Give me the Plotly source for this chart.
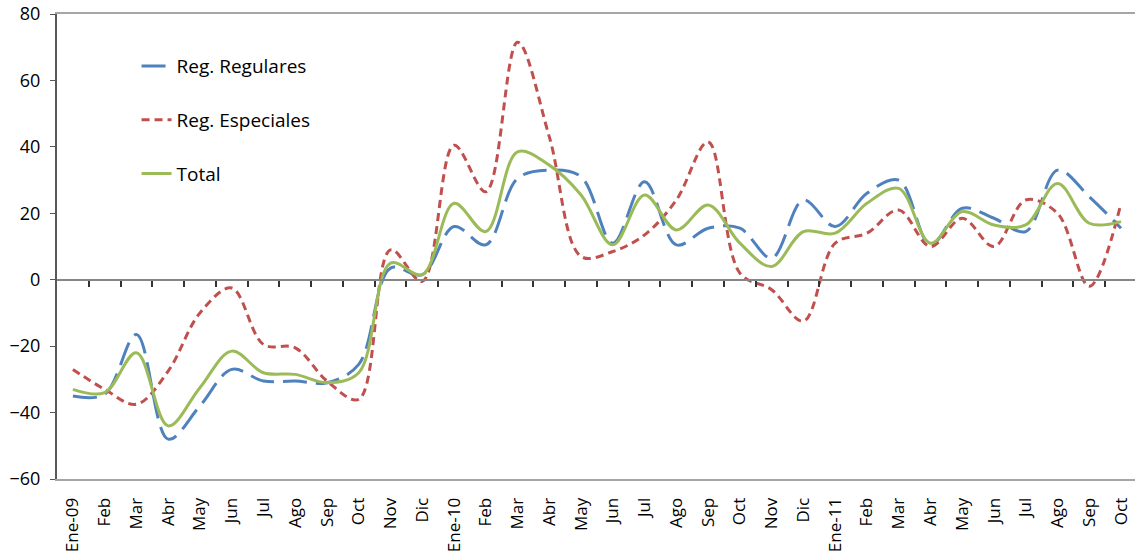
import plotly.graph_objects as go

months = ["Ene-09", "Feb", "Mar", "Abr", "May", "Jun", "Jul", "Ago", "Sep", "Oct", "Nov", "Dic",
          "Ene-10", "Feb", "Mar", "Abr", "May", "Jun", "Jul", "Ago", "Sep", "Oct", "Nov", "Dic",
          "Ene-11", "Feb", "Mar", "Abr", "May", "Jun", "Jul", "Ago", "Sep", "Oct"]

reg_regulares = [-35, -34.5, -16.5, -48, -38, -27, -30.5, -30.5, -31, -25.5, 3.5, 1.5,
                 16, 10.5, 30.5, 33, 31, 11, 29.5, 10.5, 15.5, 15.5, 6.5, 24,
                 16, 26, 30, 10.5, 21.5, 18.5, 14.5, 33, 25, 15.5]

reg_especiales = [-27, -33, -37.5, -27.5, -10, -2.5, -19.5, -20.5, -30.5, -36, 9, -0.5,
                  40.5, 26.5, 71.5, 43, 7, 8.5, 13.5, 24, 41.5, 2, -3, -12.5,
                  11, 14, 21, 10, 18.5, 10, 24, 20, -2, 23]

total = [-33, -34, -22, -44, -32.5, -21.5, -28, -28.5, -31, -28, 5, 1.5,
         23, 14.5, 38.5, 34.5, 25.5, 10.5, 25.5, 15, 22.5, 11, 4, 14.5,
         14, 23, 27.5, 11, 20.5, 16.5, 16.5, 29, 17, 17.5]

y_ticks = [-60, -40, -20, 0, 20, 40, 60, 80]

xs = list(range(len(months)))
FONT = "Open Sans"

fig = go.Figure()
fig.add_trace(go.Scatter(x=xs, y=reg_regulares, name="Reg. Regulares", mode="lines",
                         line=dict(color="#4F81BD", width=3, dash="24px,9px", shape="spline", smoothing=1),
                         legendgroup="a"))
fig.add_trace(go.Scatter(x=xs, y=reg_especiales, name="Reg. Especiales", mode="lines",
                         line=dict(color="#C0504D", width=3, dash="8px,5px", shape="spline", smoothing=1),
                         legendgroup="b"))
fig.add_trace(go.Scatter(x=xs, y=total, name="Total", mode="lines",
                         line=dict(color="#9BBB59", width=3, shape="spline", smoothing=1),
                         legendgroup="c"))

xr = [-0.5, 33.44]
fig.update_layout(
    width=1135, height=556,
    margin=dict(l=57, r=0, t=14, b=77, autoexpand=False),
    paper_bgcolor="white", plot_bgcolor="white",
    font=dict(family=FONT, size=17, color="black"),
    showlegend=True,
    legend=dict(x=0.0738, y=0.9286, xanchor="left", yanchor="top", bgcolor="rgba(0,0,0,0)",
                font=dict(size=19, family=FONT), tracegroupgap=26, itemwidth=30),
    xaxis=dict(range=xr, tickmode="array", tickvals=xs, ticktext=months, tickangle=-90,
               showgrid=False, zeroline=False, showline=True, mirror=True, automargin=False,
               linecolor="#A6A6A6", linewidth=2, ticks="", tickfont=dict(size=17),
               ticklabelstandoff=10),
    xaxis2=dict(range=xr, overlaying="x", anchor="free", position=60 / 140, side="bottom",
                showgrid=False, zeroline=False, showline=True, linecolor="#868686", linewidth=2,
                ticks="outside", ticklen=6, tickwidth=1.5, tickcolor="#333333", automargin=False,
                tickmode="array", tickvals=[i + 0.5 for i in xs], showticklabels=False),
    yaxis=dict(range=[-60, 80], tickmode="array", tickvals=y_ticks, showgrid=False, zeroline=False,
               showline=True, linecolor="#595959", linewidth=2, ticks="outside", ticklen=5,
               tickcolor="#595959", tickfont=dict(size=18), automargin=False,
               ticklabelstandoff=6),
)
fig.add_trace(go.Scatter(x=[None], y=[None], xaxis="x2", showlegend=False, hoverinfo="skip"))

fig.write_html("out.html", config={"displayModeBar": False},
               post_script="document.body.style.margin='0px';document.body.style.overflow='hidden';")
